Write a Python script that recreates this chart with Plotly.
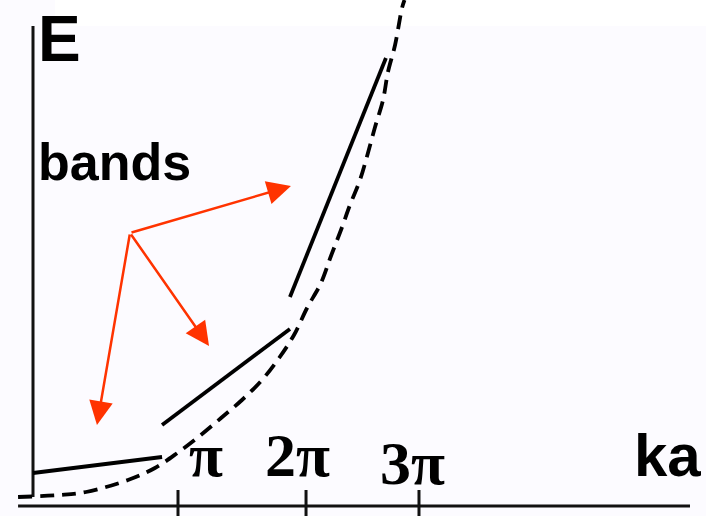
import plotly.graph_objects as go

# ---- data (x in units of ka/pi-ish, y in E units) ----
band1_x = [0.0, 0.890]
band1_y = [0.33, 0.49]
band2_x = [0.890, 1.772]
band2_y = [0.81, 1.77]
band3_x = [1.772, 2.434]
band3_y = [2.09, 4.48]

free_x = [-0.103, 0.186, 0.366, 0.655, 0.841, 1.0, 1.145, 1.297, 1.441, 1.579,
          1.697, 1.800, 1.890, 1.986, 2.055, 2.124, 2.186, 2.255, 2.310, 2.359,
          2.414, 2.448, 2.497, 2.545, 2.562]
free_y = [0.09, 0.11, 0.14, 0.26, 0.38, 0.535, 0.695, 0.88, 1.06, 1.26,
          1.48, 1.71, 1.98, 2.23, 2.50, 2.76, 3.01, 3.26, 3.53, 3.79,
          4.06, 4.34, 4.61, 4.98, 5.06]

tick_pos = [1.0, 1.883, 2.662]
tick_labels = ["π", "2π", "3π"]

arrow_origin = (0.669, 2.73)
arrow_tips_x = [1.779, 1.214, 0.441]
arrow_tips_y = [3.20, 1.60, 0.81]

BG = "#FCFBFF"
RED = "#FF3300"

fig = go.Figure()

# axes drawn as lines
fig.add_trace(go.Scatter(x=[0, 0], y=[0.09, 4.80], mode="lines",
                         line=dict(color="#111111", width=3), hoverinfo="skip"))
fig.add_trace(go.Scatter(x=[-0.103, 4.531], y=[0, 0], mode="lines",
                         line=dict(color="#111111", width=3), hoverinfo="skip"))
for t in tick_pos:
    fig.add_trace(go.Scatter(x=[t, t], y=[0.16, -0.12], mode="lines",
                             line=dict(color="#111111", width=3), hoverinfo="skip"))

# free-electron parabola (dashed)
fig.add_trace(go.Scatter(x=free_x, y=free_y, mode="lines",
                         line=dict(color="black", width=3.8, dash="14px,8px", shape="spline",
                                   smoothing=1.0),
                         hoverinfo="skip"))

# bands (solid)
for bx, by in [(band1_x, band1_y), (band2_x, band2_y), (band3_x, band3_y)]:
    fig.add_trace(go.Scatter(x=bx, y=by, mode="lines",
                             line=dict(color="black", width=3.8), hoverinfo="skip"))

annotations = []
for tx, ty in zip(arrow_tips_x, arrow_tips_y):
    annotations.append(dict(x=tx, y=ty, xref="x", yref="y",
                            ax=arrow_origin[0], ay=arrow_origin[1], axref="x", ayref="y",
                            text="", showarrow=True, arrowhead=2, arrowsize=1.9,
                            arrowwidth=2.5, arrowcolor=RED, standoff=0))

sans = "Liberation Sans, Arial, sans-serif"
serif = "Liberation Serif, Times New Roman, serif"
text_items = [
    ("<b>E</b>", 0.0843, 0.925, sans, 64),
    ("<b>bands</b>", 0.1615, 0.686, sans, 52),
    ("<b>" + tick_labels[0] + "</b>", 0.2918, 0.1182, serif, 62),
    ("<b>" + tick_labels[1] + "</b>", 0.4207, 0.1182, serif, 62),
    ("<b>" + tick_labels[2] + "</b>", 0.5836, 0.1027, serif, 62),
    ("<b>ka</b>", 0.9448, 0.1182, sans, 60),
]
for txt, x, y, fam, sz in text_items:
    annotations.append(dict(text=txt, x=x, y=y, xref="paper", yref="paper",
                            xanchor="center", yanchor="middle", showarrow=False,
                            font=dict(family=fam, size=sz, color="black")))

fig.update_layout(
    width=706, height=516,
    margin=dict(l=0, r=0, t=0, b=0),
    paper_bgcolor=BG, plot_bgcolor=BG,
    showlegend=False,
    annotations=annotations,
    shapes=[dict(type="rect", xref="paper", yref="paper", x0=55/706, x1=1,
                 y0=1 - 26/516, y1=1, fillcolor="white", line=dict(width=0), layer="below")],
    xaxis=dict(range=[-0.2276, 4.6414], showgrid=False, zeroline=False,
               showticklabels=False, visible=False, fixedrange=True),
    yaxis=dict(range=[-0.10, 5.06], showgrid=False, zeroline=False,
               showticklabels=False, visible=False, fixedrange=True),
)

fig.write_html("out.html", config={"displayModeBar": False},
               post_script="document.body.style.margin='0';document.body.style.overflow='hidden';")
